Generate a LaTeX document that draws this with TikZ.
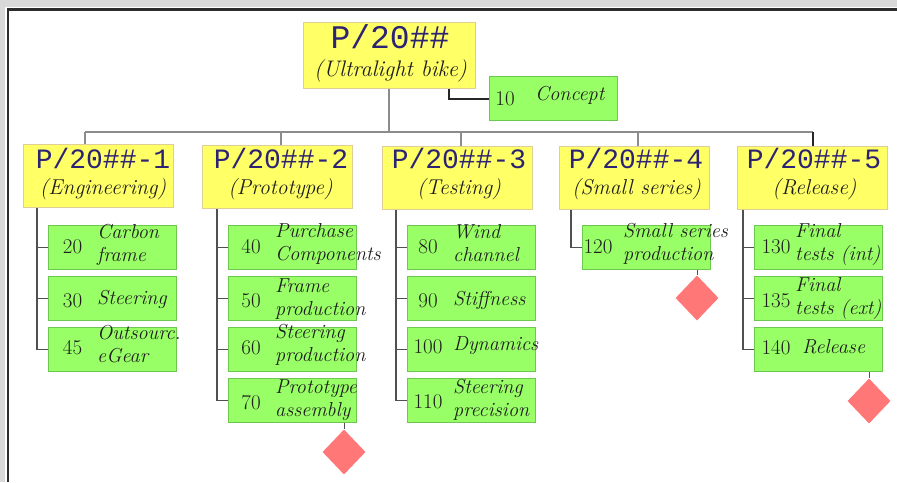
\documentclass[tikz,border=0pt]{standalone}
\usepackage{fontspec}
\setmonofont{Liberation Mono}
\usetikzlibrary{shapes.geometric}
\definecolor{pagegray}{RGB}{217,217,217}
\definecolor{framedark}{RGB}{45,45,45}
\definecolor{headfill}{RGB}{255,255,102}
\definecolor{headborder}{RGB}{225,205,150}
\definecolor{taskfill}{RGB}{153,255,102}
\definecolor{taskborder}{RGB}{110,200,80}
\definecolor{msfill}{RGB}{255,119,119}
\definecolor{ttcol}{RGB}{45,35,115}
\definecolor{itcol}{RGB}{30,30,30}
\definecolor{busgray}{RGB}{140,140,140}
\definecolor{colgray}{RGB}{80,80,80}
\newcommand\twolines[1]{\begin{tabular}[t]{@{}l@{}}#1\end{tabular}}
\newcommand\numdx{0}
\newcommand\txtdx{0}
\newcommand\wbstask[7]{%
  \node[taskbox] (#1) at (#2,#3) {};
  \node[tasknum] (#1n) at ({#2+\numdx},{#3+#5}) {#4};
  \node[tasktxt] (#1t) at ({#2+\txtdx},{#3+#6}) {#7};
}
\tikzset{
  headbox/.style={draw=headborder, fill=headfill, line width=1pt, minimum width=150, minimum height=63, inner sep=0pt},
  headtt/.style={font=\fontsize{28}{30}\selectfont\ttfamily, text=ttcol, inner sep=0pt, anchor=base},
  headit/.style={font=\fontsize{21.5}{24}\selectfont\itshape, text=itcol, inner sep=0pt, anchor=base},
  taskbox/.style={draw=taskborder, fill=taskfill, line width=1pt, minimum width=128, minimum height=44, inner sep=0pt, anchor=north west},
  tasknum/.style={font=\fontsize{21}{24}\selectfont, text=itcol, inner sep=0pt, anchor=base},
  tasktxt/.style={font=\fontsize{20.2}{23}\selectfont\itshape, text=itcol, inner sep=0pt, anchor=base west},
  milestone/.style={diamond, fill=msfill, minimum width=43, minimum height=45, inner sep=0pt},
  busline/.style={draw=busgray, line width=1.5pt},
  colline/.style={draw=colgray, line width=1.5pt},
  darkline/.style={draw=black!85, line width=2pt},
  msline/.style={draw=colgray, line width=1pt},
}
\begin{document}
\begin{tikzpicture}[x=1pt,y=-1pt]
\useasboundingbox (0,0) rectangle (897,482);
\fill[pagegray] (0,0) rectangle (897,482);
\fill[white] (5,7) rectangle (897,482);
\fill[framedark] (6.5,8) rectangle (897,10.5);
\fill[framedark] (6.5,8) rectangle (8.5,482);

% root
\node[headbox, minimum width=172, minimum height=66] (root) at (389,55) {};
\node[headtt, font=\fontsize{33}{35}\selectfont\ttfamily] (roott) at (390,48) {P/20\#\#};
\node[headit, font=\fontsize{22.5}{25}\selectfont\itshape] (rooti) at (390.5,76) {(Ultralight bike)};

% concept
\renewcommand\numdx{16}\renewcommand\txtdx{46}
\wbstask{t10}{489}{76}{10}{29}{24}{Concept}
\coordinate (cc) at (449,90);
\draw[darkline] (root.south -| cc) |- (t10.west);

% heads
\node[headbox] (h1) at (98,175.5) {};
\node[headtt] (h1t) at (103,168) {P/20\#\#-1};
\node[headit] (h1i) at (103,194) {(Engineering)};
\node[headbox] (h2) at (277.5,177) {};
\node[headtt] (h2t) at (281,168) {P/20\#\#-2};
\node[headit] (h2i) at (280.5,194) {(Prototype)};
\node[headbox] (h3) at (457,178) {};
\node[headtt] (h3t) at (459,168) {P/20\#\#-3};
\node[headit] (h3i) at (459,194) {(Testing)};
\node[headbox] (h4) at (634,177.5) {};
\node[headtt] (h4t) at (636,168) {P/20\#\#-4};
\node[headit] (h4i) at (636.5,194) {(Small series)};
\node[headbox] (h5) at (812,177.5) {};
\node[headtt] (h5t) at (814,168) {P/20\#\#-5};
\node[headit] (h5i) at (814.5,194) {(Release)};

% bus
\coordinate (b1) at (85,132);
\coordinate (b2) at (281,132);
\coordinate (b3) at (461,132);
\coordinate (b4) at (638,132);
\coordinate (b5) at (813,132);
\draw[busline] (root.south) -- (root.south |- b1);
\draw[busline] (b1) -- (b5);
\draw[busline] (b1) -- (b1 |- h1.north);
\draw[busline] (b2) -- (b2 |- h2.north);
\draw[busline] (b3) -- (b3 |- h3.north);
\draw[busline] (b4) -- (b4 |- h4.north);
\draw[darkline, line width=1.5pt] (b5) -- (b5 |- h5.north);

% column 1
\renewcommand\numdx{24.5}\renewcommand\txtdx{49}
\wbstask{t20}{48}{225}{20}{28}{13}{\twolines{Carbon\\frame}}
\wbstask{t30}{48}{276}{30}{31}{28}{Steering}
\wbstask{t45}{48}{327}{45}{27}{12}{\twolines{Outsourc.\\eGear}}
% column 2
\renewcommand\numdx{23}\renewcommand\txtdx{47}
\wbstask{t40}{228}{225}{40}{28}{12}{\twolines{Purchase\\Components}}
\wbstask{t50}{228}{276}{50}{31}{16}{\twolines{Frame\\production}}
\wbstask{t60}{228}{327}{60}{27}{11}{\twolines{Steering\\production}}
\wbstask{t70}{228}{378}{70}{31}{15}{\twolines{Prototype\\assembly}}
% column 3
\renewcommand\numdx{21}\renewcommand\txtdx{46}
\wbstask{t80}{407}{225}{80}{28}{13}{\twolines{Wind\\channel}}
\wbstask{t90}{407}{276}{90}{31}{29}{Stiffness}
\wbstask{t100}{407}{327}{100}{26}{23}{Dynamics}
\wbstask{t110}{407}{378}{110}{30}{15}{\twolines{Steering\\precision}}
% column 4
\renewcommand\numdx{16}\renewcommand\txtdx{41}
\wbstask{t120}{582}{225}{120}{28}{12}{\twolines{Small series\\production}}
% column 5
\renewcommand\numdx{22}\renewcommand\txtdx{41}
\wbstask{t130}{754}{225}{130}{28}{12}{\twolines{Final\\tests (int)}}
\wbstask{t135}{754}{276}{135}{31}{15}{\twolines{Final\\tests (ext)}}
\renewcommand\txtdx{48}
\wbstask{t140}{754}{327}{140}{27}{26}{Release}

% column connectors
\coordinate (c1) at (37,200);
\coordinate (c2) at (217,200);
\coordinate (c3) at (396,200);
\coordinate (c4) at (571,200);
\coordinate (c5) at (743,200);
\draw[colline] (c1 |- h1.south) |- (t45.west);
\draw[colline] (c1 |- t20.west) -- (t20.west);
\draw[colline] (c1 |- t30.west) -- (t30.west);
\draw[colline] (c2 |- h2.south) |- (t70.west);
\draw[colline] (c2 |- t40.west) -- (t40.west);
\draw[colline] (c2 |- t50.west) -- (t50.west);
\draw[colline] (c2 |- t60.west) -- (t60.west);
\draw[colline] (c3 |- h3.south) |- (t110.west);
\draw[colline] (c3 |- t80.west) -- (t80.west);
\draw[colline] (c3 |- t90.west) -- (t90.west);
\draw[colline] (c3 |- t100.west) -- (t100.west);
\draw[colline] (c4 |- h4.south) |- (t120.west);
\draw[colline] (c5 |- h5.south) |- (t140.west);
\draw[colline] (c5 |- t130.west) -- (t130.west);
\draw[colline] (c5 |- t135.west) -- (t135.west);

% milestones
\node[milestone] (m2) at (344,452) {};
\node[milestone] (m4) at (697,298) {};
\node[milestone] (m5) at (869,401) {};
\draw[msline] (t70.south -| m2) -- (m2.north);
\draw[msline] (t120.south -| m4) -- (m4.north);
\draw[msline] (t140.south -| m5) -- (m5.north);
\end{tikzpicture}
\end{document}
